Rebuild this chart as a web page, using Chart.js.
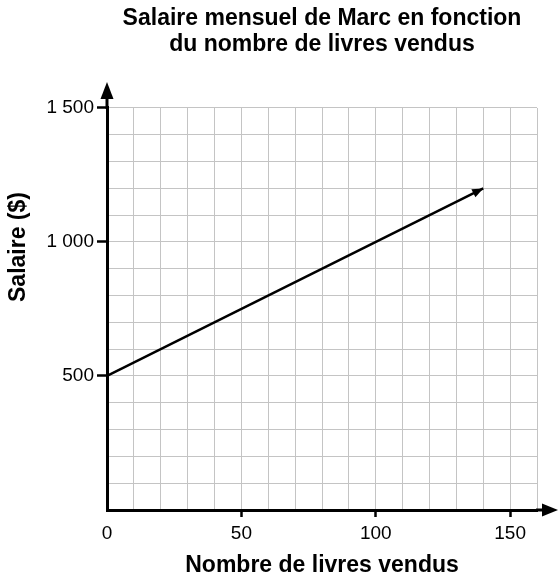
<!DOCTYPE html>
<html>
<head>
<meta charset="utf-8">
<script src="https://cdn.jsdelivr.net/npm/chart.js@4"></script>
<style>
  html, body { margin: 0; padding: 0; background: #fff; }
  #wrap { width: 560px; height: 580px; position: relative; }
</style>
</head>
<body>
<div id="wrap"><canvas id="salaryChart"></canvas></div>
<script>
// data
const booksSold = [0, 140];
const salary = [500, 1200];
const xLabels = { 0: '0', 50: '50', 100: '100', 150: '150' };
const yLabels = { 500: '500', 1000: '1 000', 1500: '1 500' };
const titleLines = ['Salaire mensuel de Marc en fonction', 'du nombre de livres vendus'];
const xTitle = 'Nombre de livres vendus';
const yTitle = 'Salaire ($)';

const FONT = "'Liberation Sans', Arial, sans-serif";

function drawHead(ctx, x, y, angle, len, half) {
    ctx.save();
    ctx.translate(x, y);
    ctx.rotate(angle);
    ctx.beginPath();
    ctx.moveTo(0, 0);
    ctx.lineTo(-len, -half);
    ctx.lineTo(-len, half);
    ctx.closePath();
    ctx.fill();
    ctx.restore();
}

// axis arrows, arrow at the end of the line, and the rotated y title
const arrows = {
    id: 'arrows',
    afterDraw(chart) {
        const ctx = chart.ctx;
        const a = chart.chartArea;
        ctx.save();
        ctx.strokeStyle = '#000';
        ctx.fillStyle = '#000';
        ctx.lineWidth = 3;

        // x axis extension
        ctx.beginPath();
        ctx.moveTo(a.right - 1, a.bottom);
        ctx.lineTo(a.right + 8, a.bottom);
        ctx.stroke();
        drawHead(ctx, a.right + 21, a.bottom, 0, 16, 6.5);

        // y axis extension
        ctx.beginPath();
        ctx.moveTo(a.left, a.top + 1);
        ctx.lineTo(a.left, a.top - 12);
        ctx.stroke();
        drawHead(ctx, a.left, a.top - 26, -Math.PI / 2, 17, 6.5);

        // arrowhead on the data line
        const pts = chart.getDatasetMeta(0).data;
        const p1 = pts[pts.length - 2], p2 = pts[pts.length - 1];
        const ang = Math.atan2(p2.y - p1.y, p2.x - p1.x);
        drawHead(ctx, p2.x, p2.y, ang, 11, 4.5);

        // y title
        ctx.font = 'bold 23px ' + FONT;
        ctx.textAlign = 'center';
        ctx.textBaseline = 'middle';
        ctx.translate(19, 247);
        ctx.rotate(-Math.PI / 2);
        ctx.fillText(yTitle, 0, 0);
        ctx.restore();
    }
};

new Chart(document.getElementById('salaryChart'), {
    type: 'line',
    data: {
        datasets: [{
            data: booksSold.map((x, i) => ({ x: x, y: salary[i] })),
            borderColor: '#000',
            borderWidth: 2.5,
            pointRadius: 0,
            fill: false,
            tension: 0
        }]
    },
    options: {
        responsive: true,
        maintainAspectRatio: false,
        animation: false,
        layout: { padding: { left: 0, right: 23, top: 0, bottom: 0 } },
        plugins: {
            legend: { display: false },
            tooltip: { enabled: false },
            title: {
                display: true,
                fullSize: false,
                text: titleLines,
                color: '#000',
                font: { family: FONT, size: 23, weight: 'bold', lineHeight: 1.13 },
                padding: { top: 6, bottom: 50 }
            }
        },
        scales: {
            x: {
                type: 'linear',
                min: 0,
                max: 160,
                afterFit: s => { s.height = 70; },
                border: { color: '#000', width: 3 },
                grid: {
                    color: '#c4c4c4',
                    lineWidth: 1,
                    drawTicks: true,
                    tickLength: 7,
                    tickWidth: 2.5,
                    tickColor: c => (c.tick && c.tick.value > 0 && xLabels[c.tick.value]) ? '#000' : 'rgba(0,0,0,0)'
                },
                ticks: {
                    stepSize: 10,
                    autoSkip: false,
                    maxRotation: 0,
                    padding: 5,
                    color: '#000',
                    font: { family: FONT, size: 19 },
                    callback: v => xLabels[v] || ''
                },
                title: {
                    display: true,
                    text: xTitle,
                    color: '#000',
                    font: { family: FONT, size: 23, weight: 'bold' },
                    padding: { top: 0, bottom: 1 }
                }
            },
            y: {
                type: 'linear',
                min: 0,
                max: 1500,
                afterFit: s => { s.width = 107; },
                border: { color: '#000', width: 3 },
                grid: {
                    color: '#c4c4c4',
                    lineWidth: 1,
                    drawTicks: true,
                    tickLength: 10,
                    tickWidth: 2.5,
                    tickColor: c => (c.tick && yLabels[c.tick.value]) ? '#000' : 'rgba(0,0,0,0)'
                },
                ticks: {
                    stepSize: 100,
                    autoSkip: false,
                    padding: 3,
                    color: '#000',
                    font: { family: FONT, size: 19 },
                    callback: v => yLabels[v] || ''
                }
            }
        }
    },
    plugins: [arrows]
});
</script>
</body>
</html>
